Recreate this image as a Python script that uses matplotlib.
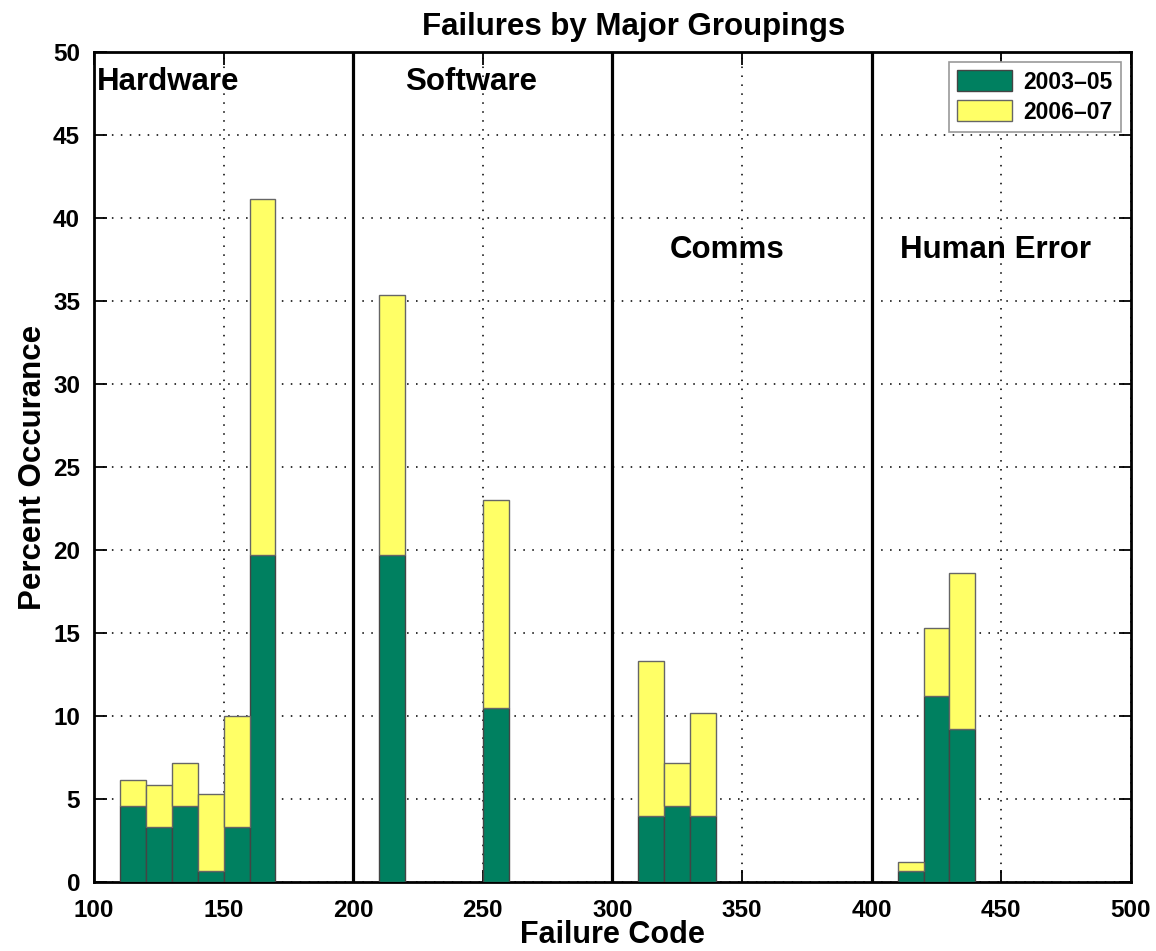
import numpy as np
import matplotlib
matplotlib.use("Agg")
import matplotlib.pyplot as plt

plt.rcParams['font.family'] = ['Liberation Sans', 'DejaVu Sans']
plt.rcParams['font.weight'] = 'bold'

# failure code bins (left edge) and percent values
codes = [110, 120, 130, 140, 150, 160, 210, 250, 310, 320, 330, 410, 420, 430]
pct_0305 = [4.6, 3.3, 4.6, 0.66, 3.3, 19.7, 19.7, 10.5, 3.95, 4.6, 3.95, 0.66, 11.2, 9.2]
pct_0607 = [1.55, 2.55, 2.55, 4.62, 6.7, 21.45, 15.65, 12.5, 9.35, 2.55, 6.25, 0.55, 4.1, 9.4]

groups = ["Hardware", "Software", "Comms", "Human Error"]
group_x = [101, 220, 322, 411]
group_y = [48.2, 48.2, 38.1, 38.1]
dividers = [200, 300, 400]

green = '#008060'
yellow = '#ffff66'

fig = plt.figure(figsize=(11.56, 9.51), dpi=100)
ax = fig.add_axes([0.0813, 0.0726, 0.8970, 0.8726])

ax.bar(codes, pct_0305, width=10, align='edge', color=green,
       edgecolor='#444444', linewidth=1, label='2003\u201305', zorder=3)
ax.bar(codes, pct_0607, width=10, align='edge', bottom=pct_0305, color=yellow,
       edgecolor='#666666', linewidth=1, label='2006\u201307', zorder=3)

for d in dividers:
    ax.axvline(d, color='black', linewidth=2.3, zorder=4)

for name, gx, gy in zip(groups, group_x, group_y):
    ax.text(gx, gy, name, fontsize=22.5, fontweight='bold', va='center', ha='left')

ax.set_xlim(100, 500)
ax.set_ylim(0, 50)
ax.set_xticks(np.arange(100, 501, 50))
ax.set_yticks(np.arange(0, 51, 5))
ax.grid(True, linestyle=(0, (0.8, 3.8)), color='#333333', linewidth=1.4, zorder=0)
ax.set_axisbelow(True)
ax.tick_params(direction='in', length=9, width=1.3, top=True, right=True,
               labelsize=17.5)
ax.tick_params(axis='x', pad=12)
ax.tick_params(axis='y', pad=10)
for lab in ax.get_xticklabels() + ax.get_yticklabels():
    lab.set_fontweight('bold')
for s in ax.spines.values():
    s.set_linewidth(2)

ax.set_title('Failures by Major Groupings', fontsize=22.5, fontweight='bold',
             x=0.52, pad=12)
ax.set_xlabel('Failure Code', fontsize=22, fontweight='bold', labelpad=-1)
ax.set_ylabel('Percent Occurance', fontsize=22.5, fontweight='bold', labelpad=4)

leg = ax.legend(loc='upper right', fontsize=16.5, fancybox=False, framealpha=1,
                edgecolor='#999999', handlelength=2.4, handleheight=1.0,
                borderaxespad=0.45, borderpad=0.35, labelspacing=0.3,
                handletextpad=0.5)
leg.get_frame().set_linewidth(1.2)

fig.savefig('out.png', dpi=100)
